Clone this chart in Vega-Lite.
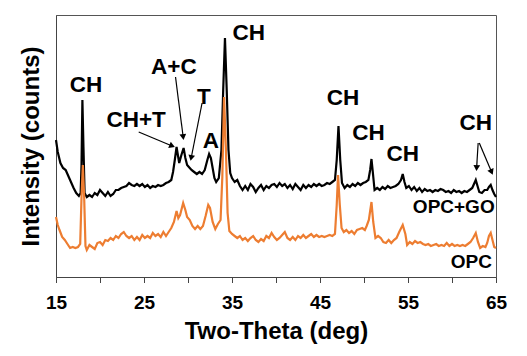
{
  "$schema": "https://vega.github.io/schema/vega-lite/v6.json",
  "autosize": {"type": "none"},
  "padding": {"left": 56, "top": 15, "right": 31, "bottom": 79},
  "width": 440,
  "height": 262,
  "background": "white",
  "config": {
    "font": "Liberation Sans",
    "view": {"stroke": "#555", "strokeWidth": 1},
    "axis": {"grid": false, "domainColor": "#444", "tickColor": "#444", "labelFont": "Liberation Sans", "titleFont": "Liberation Sans", "labelFontWeight": "bold", "titleFontWeight": "bold", "labelColor": "#000", "titleColor": "#000"},
    "axisX": {"values": [15, 20, 25, 30, 35, 40, 45, 50, 55, 60, 65], "labelExpr": "datum.value % 10 == 5 ? datum.label : ''", "tickSize": 5.5, "labelFontSize": 19, "titleFontSize": 24, "labelPadding": 11, "titlePadding": 7, "labelFlush": false},
    "axisY": {"labels": false, "ticks": false, "titleFontSize": 24, "titlePadding": 13}
  },
  "datasets": {
    "opcgo": [
      {"theta": 15.0, "intensity": 137}, {"theta": 15.2, "intensity": 125}, {"theta": 15.5, "intensity": 114}, {"theta": 15.8, "intensity": 109},
      {"theta": 16.1, "intensity": 107}, {"theta": 16.4, "intensity": 101}, {"theta": 16.7, "intensity": 95}, {"theta": 17.0, "intensity": 89},
      {"theta": 17.3, "intensity": 84}, {"theta": 17.6, "intensity": 81}, {"theta": 17.8, "intensity": 84}, {"theta": 17.9, "intensity": 112},
      {"theta": 18.0, "intensity": 177}, {"theta": 18.12, "intensity": 130}, {"theta": 18.25, "intensity": 84}, {"theta": 18.5, "intensity": 80},
      {"theta": 18.8, "intensity": 82}, {"theta": 19.1, "intensity": 80}, {"theta": 19.4, "intensity": 84}, {"theta": 19.7, "intensity": 82},
      {"theta": 20.0, "intensity": 87}, {"theta": 20.3, "intensity": 84}, {"theta": 20.6, "intensity": 81}, {"theta": 20.9, "intensity": 85},
      {"theta": 21.2, "intensity": 81}, {"theta": 21.5, "intensity": 83}, {"theta": 21.8, "intensity": 87}, {"theta": 22.1, "intensity": 87},
      {"theta": 22.4, "intensity": 89}, {"theta": 22.7, "intensity": 90}, {"theta": 23.0, "intensity": 91}, {"theta": 23.3, "intensity": 94},
      {"theta": 23.6, "intensity": 92}, {"theta": 23.9, "intensity": 91}, {"theta": 24.2, "intensity": 93}, {"theta": 24.5, "intensity": 91},
      {"theta": 24.8, "intensity": 93}, {"theta": 25.1, "intensity": 90}, {"theta": 25.4, "intensity": 92}, {"theta": 25.7, "intensity": 89},
      {"theta": 26.0, "intensity": 91}, {"theta": 26.3, "intensity": 90}, {"theta": 26.6, "intensity": 92}, {"theta": 26.9, "intensity": 91},
      {"theta": 27.2, "intensity": 92}, {"theta": 27.5, "intensity": 94}, {"theta": 27.8, "intensity": 95}, {"theta": 28.1, "intensity": 97},
      {"theta": 28.3, "intensity": 105}, {"theta": 28.5, "intensity": 117}, {"theta": 28.7, "intensity": 130}, {"theta": 28.85, "intensity": 122},
      {"theta": 29.0, "intensity": 114}, {"theta": 29.25, "intensity": 122}, {"theta": 29.5, "intensity": 129}, {"theta": 29.7, "intensity": 119},
      {"theta": 29.9, "intensity": 112}, {"theta": 30.1, "intensity": 110}, {"theta": 30.4, "intensity": 107}, {"theta": 30.7, "intensity": 105},
      {"theta": 31.0, "intensity": 103}, {"theta": 31.3, "intensity": 105}, {"theta": 31.6, "intensity": 103}, {"theta": 31.9, "intensity": 107},
      {"theta": 32.2, "intensity": 117}, {"theta": 32.4, "intensity": 123}, {"theta": 32.6, "intensity": 119}, {"theta": 32.8, "intensity": 109},
      {"theta": 33.0, "intensity": 99}, {"theta": 33.2, "intensity": 95}, {"theta": 33.5, "intensity": 99}, {"theta": 33.8, "intensity": 127},
      {"theta": 34.0, "intensity": 187}, {"theta": 34.2, "intensity": 239}, {"theta": 34.4, "intensity": 187}, {"theta": 34.6, "intensity": 127},
      {"theta": 34.8, "intensity": 104}, {"theta": 35.0, "intensity": 99}, {"theta": 35.3, "intensity": 95}, {"theta": 35.6, "intensity": 97},
      {"theta": 35.9, "intensity": 91}, {"theta": 36.2, "intensity": 87}, {"theta": 36.5, "intensity": 91}, {"theta": 36.8, "intensity": 87},
      {"theta": 37.1, "intensity": 93}, {"theta": 37.4, "intensity": 90}, {"theta": 37.7, "intensity": 85}, {"theta": 38.0, "intensity": 89},
      {"theta": 38.3, "intensity": 92}, {"theta": 38.6, "intensity": 87}, {"theta": 38.9, "intensity": 91}, {"theta": 39.2, "intensity": 89},
      {"theta": 39.5, "intensity": 92}, {"theta": 39.8, "intensity": 93}, {"theta": 40.1, "intensity": 90}, {"theta": 40.4, "intensity": 94},
      {"theta": 40.7, "intensity": 91}, {"theta": 41.0, "intensity": 93}, {"theta": 41.3, "intensity": 89}, {"theta": 41.6, "intensity": 92},
      {"theta": 41.9, "intensity": 88}, {"theta": 42.2, "intensity": 93}, {"theta": 42.5, "intensity": 90}, {"theta": 42.8, "intensity": 87},
      {"theta": 43.1, "intensity": 92}, {"theta": 43.4, "intensity": 89}, {"theta": 43.7, "intensity": 92}, {"theta": 44.0, "intensity": 90},
      {"theta": 44.3, "intensity": 93}, {"theta": 44.6, "intensity": 91}, {"theta": 44.9, "intensity": 93}, {"theta": 45.2, "intensity": 91},
      {"theta": 45.5, "intensity": 92}, {"theta": 45.8, "intensity": 94}, {"theta": 46.1, "intensity": 93}, {"theta": 46.4, "intensity": 95},
      {"theta": 46.7, "intensity": 97}, {"theta": 46.9, "intensity": 117}, {"theta": 47.1, "intensity": 151}, {"theta": 47.3, "intensity": 117},
      {"theta": 47.5, "intensity": 94}, {"theta": 47.8, "intensity": 89}, {"theta": 48.1, "intensity": 92}, {"theta": 48.4, "intensity": 90},
      {"theta": 48.7, "intensity": 93}, {"theta": 49.0, "intensity": 91}, {"theta": 49.3, "intensity": 94}, {"theta": 49.6, "intensity": 92},
      {"theta": 49.9, "intensity": 94}, {"theta": 50.2, "intensity": 95}, {"theta": 50.5, "intensity": 97}, {"theta": 50.7, "intensity": 107},
      {"theta": 50.85, "intensity": 118}, {"theta": 51.0, "intensity": 105}, {"theta": 51.2, "intensity": 87}, {"theta": 51.5, "intensity": 89},
      {"theta": 51.8, "intensity": 87}, {"theta": 52.1, "intensity": 90}, {"theta": 52.4, "intensity": 88}, {"theta": 52.7, "intensity": 91},
      {"theta": 53.0, "intensity": 89}, {"theta": 53.3, "intensity": 90}, {"theta": 53.6, "intensity": 91}, {"theta": 53.9, "intensity": 93},
      {"theta": 54.2, "intensity": 97}, {"theta": 54.4, "intensity": 103}, {"theta": 54.6, "intensity": 95}, {"theta": 54.8, "intensity": 89},
      {"theta": 55.1, "intensity": 91}, {"theta": 55.4, "intensity": 87}, {"theta": 55.7, "intensity": 90}, {"theta": 56.0, "intensity": 86},
      {"theta": 56.3, "intensity": 89}, {"theta": 56.6, "intensity": 85}, {"theta": 56.9, "intensity": 88}, {"theta": 57.2, "intensity": 86},
      {"theta": 57.5, "intensity": 87}, {"theta": 57.8, "intensity": 85}, {"theta": 58.1, "intensity": 87}, {"theta": 58.4, "intensity": 86},
      {"theta": 58.7, "intensity": 88}, {"theta": 59.0, "intensity": 87}, {"theta": 59.3, "intensity": 85}, {"theta": 59.6, "intensity": 86},
      {"theta": 59.9, "intensity": 84}, {"theta": 60.2, "intensity": 87}, {"theta": 60.5, "intensity": 85}, {"theta": 60.8, "intensity": 86},
      {"theta": 61.1, "intensity": 84}, {"theta": 61.4, "intensity": 86}, {"theta": 61.7, "intensity": 85}, {"theta": 62.0, "intensity": 87},
      {"theta": 62.3, "intensity": 89}, {"theta": 62.5, "intensity": 93}, {"theta": 62.7, "intensity": 97}, {"theta": 62.9, "intensity": 91},
      {"theta": 63.1, "intensity": 85}, {"theta": 63.4, "intensity": 84}, {"theta": 63.7, "intensity": 87}, {"theta": 64.0, "intensity": 87},
      {"theta": 64.2, "intensity": 90}, {"theta": 64.4, "intensity": 92}, {"theta": 64.6, "intensity": 87}, {"theta": 64.8, "intensity": 83},
      {"theta": 65.0, "intensity": 80}
    ],
    "opc": [
      {"theta": 15.0, "intensity": 60}, {"theta": 15.2, "intensity": 52}, {"theta": 15.4, "intensity": 47}, {"theta": 15.7, "intensity": 40},
      {"theta": 16.0, "intensity": 37}, {"theta": 16.3, "intensity": 33}, {"theta": 16.6, "intensity": 29}, {"theta": 16.9, "intensity": 30},
      {"theta": 17.2, "intensity": 29}, {"theta": 17.5, "intensity": 30}, {"theta": 17.75, "intensity": 33}, {"theta": 17.9, "intensity": 80},
      {"theta": 18.05, "intensity": 112}, {"theta": 18.2, "intensity": 80}, {"theta": 18.35, "intensity": 31}, {"theta": 18.5, "intensity": 27},
      {"theta": 18.8, "intensity": 32}, {"theta": 19.1, "intensity": 30}, {"theta": 19.4, "intensity": 28}, {"theta": 19.7, "intensity": 34},
      {"theta": 20.0, "intensity": 35}, {"theta": 20.3, "intensity": 32}, {"theta": 20.6, "intensity": 37}, {"theta": 20.9, "intensity": 36},
      {"theta": 21.2, "intensity": 39}, {"theta": 21.5, "intensity": 37}, {"theta": 21.8, "intensity": 41}, {"theta": 22.1, "intensity": 39},
      {"theta": 22.4, "intensity": 43}, {"theta": 22.7, "intensity": 45}, {"theta": 23.0, "intensity": 41}, {"theta": 23.3, "intensity": 39},
      {"theta": 23.6, "intensity": 41}, {"theta": 23.9, "intensity": 37}, {"theta": 24.2, "intensity": 40}, {"theta": 24.5, "intensity": 37},
      {"theta": 24.8, "intensity": 42}, {"theta": 25.1, "intensity": 39}, {"theta": 25.4, "intensity": 41}, {"theta": 25.7, "intensity": 39},
      {"theta": 26.0, "intensity": 44}, {"theta": 26.3, "intensity": 41}, {"theta": 26.6, "intensity": 43}, {"theta": 26.9, "intensity": 40},
      {"theta": 27.2, "intensity": 45}, {"theta": 27.5, "intensity": 41}, {"theta": 27.8, "intensity": 45}, {"theta": 28.1, "intensity": 49},
      {"theta": 28.4, "intensity": 55}, {"theta": 28.7, "intensity": 66}, {"theta": 28.9, "intensity": 59}, {"theta": 29.1, "intensity": 62},
      {"theta": 29.45, "intensity": 74}, {"theta": 29.7, "intensity": 67}, {"theta": 29.9, "intensity": 60}, {"theta": 30.2, "intensity": 57},
      {"theta": 30.5, "intensity": 51}, {"theta": 30.8, "intensity": 48}, {"theta": 31.1, "intensity": 51}, {"theta": 31.4, "intensity": 48},
      {"theta": 31.7, "intensity": 51}, {"theta": 32.0, "intensity": 61}, {"theta": 32.3, "intensity": 72}, {"theta": 32.5, "intensity": 69},
      {"theta": 32.8, "intensity": 55}, {"theta": 33.1, "intensity": 48}, {"theta": 33.4, "intensity": 53}, {"theta": 33.7, "intensity": 57},
      {"theta": 33.9, "intensity": 100}, {"theta": 34.1, "intensity": 180}, {"theta": 34.3, "intensity": 130}, {"theta": 34.5, "intensity": 64},
      {"theta": 34.7, "intensity": 46}, {"theta": 35.0, "intensity": 43}, {"theta": 35.3, "intensity": 41}, {"theta": 35.6, "intensity": 39},
      {"theta": 35.9, "intensity": 41}, {"theta": 36.2, "intensity": 37}, {"theta": 36.5, "intensity": 39}, {"theta": 36.8, "intensity": 36},
      {"theta": 37.1, "intensity": 39}, {"theta": 37.4, "intensity": 41}, {"theta": 37.7, "intensity": 37}, {"theta": 38.0, "intensity": 35},
      {"theta": 38.3, "intensity": 38}, {"theta": 38.6, "intensity": 36}, {"theta": 38.9, "intensity": 41}, {"theta": 39.2, "intensity": 39},
      {"theta": 39.5, "intensity": 44}, {"theta": 39.8, "intensity": 40}, {"theta": 40.1, "intensity": 37}, {"theta": 40.4, "intensity": 39},
      {"theta": 40.7, "intensity": 42}, {"theta": 41.0, "intensity": 45}, {"theta": 41.3, "intensity": 39}, {"theta": 41.6, "intensity": 37},
      {"theta": 41.9, "intensity": 40}, {"theta": 42.2, "intensity": 37}, {"theta": 42.5, "intensity": 41}, {"theta": 42.8, "intensity": 39},
      {"theta": 43.1, "intensity": 42}, {"theta": 43.4, "intensity": 39}, {"theta": 43.7, "intensity": 41}, {"theta": 44.0, "intensity": 43},
      {"theta": 44.3, "intensity": 40}, {"theta": 44.6, "intensity": 42}, {"theta": 44.9, "intensity": 40}, {"theta": 45.2, "intensity": 41},
      {"theta": 45.5, "intensity": 40}, {"theta": 45.8, "intensity": 41}, {"theta": 46.1, "intensity": 42}, {"theta": 46.4, "intensity": 41},
      {"theta": 46.7, "intensity": 43}, {"theta": 46.9, "intensity": 72}, {"theta": 47.05, "intensity": 102}, {"theta": 47.25, "intensity": 72},
      {"theta": 47.45, "intensity": 49}, {"theta": 47.7, "intensity": 45}, {"theta": 48.0, "intensity": 47}, {"theta": 48.3, "intensity": 44},
      {"theta": 48.6, "intensity": 46}, {"theta": 48.9, "intensity": 43}, {"theta": 49.2, "intensity": 47}, {"theta": 49.5, "intensity": 48},
      {"theta": 49.8, "intensity": 49}, {"theta": 50.1, "intensity": 47}, {"theta": 50.3, "intensity": 51}, {"theta": 50.55, "intensity": 57},
      {"theta": 50.85, "intensity": 75}, {"theta": 51.05, "intensity": 55}, {"theta": 51.3, "intensity": 39}, {"theta": 51.6, "intensity": 41},
      {"theta": 51.9, "intensity": 39}, {"theta": 52.2, "intensity": 35}, {"theta": 52.5, "intensity": 34}, {"theta": 52.8, "intensity": 37},
      {"theta": 53.1, "intensity": 34}, {"theta": 53.4, "intensity": 37}, {"theta": 53.7, "intensity": 39}, {"theta": 54.0, "intensity": 45},
      {"theta": 54.4, "intensity": 52}, {"theta": 54.7, "intensity": 43}, {"theta": 54.9, "intensity": 32}, {"theta": 55.2, "intensity": 35},
      {"theta": 55.5, "intensity": 33}, {"theta": 55.8, "intensity": 36}, {"theta": 56.1, "intensity": 34}, {"theta": 56.4, "intensity": 35},
      {"theta": 56.7, "intensity": 33}, {"theta": 57.0, "intensity": 32}, {"theta": 57.3, "intensity": 33}, {"theta": 57.6, "intensity": 31},
      {"theta": 57.9, "intensity": 32}, {"theta": 58.2, "intensity": 33}, {"theta": 58.5, "intensity": 31}, {"theta": 58.8, "intensity": 32},
      {"theta": 59.1, "intensity": 31}, {"theta": 59.4, "intensity": 34}, {"theta": 59.7, "intensity": 31}, {"theta": 60.0, "intensity": 33},
      {"theta": 60.3, "intensity": 31}, {"theta": 60.6, "intensity": 32}, {"theta": 60.9, "intensity": 31}, {"theta": 61.2, "intensity": 32},
      {"theta": 61.5, "intensity": 31}, {"theta": 61.8, "intensity": 33}, {"theta": 62.1, "intensity": 35}, {"theta": 62.4, "intensity": 39},
      {"theta": 62.7, "intensity": 44}, {"theta": 62.95, "intensity": 35}, {"theta": 63.2, "intensity": 29}, {"theta": 63.5, "intensity": 31},
      {"theta": 63.8, "intensity": 30}, {"theta": 64.0, "intensity": 34}, {"theta": 64.2, "intensity": 41}, {"theta": 64.4, "intensity": 44},
      {"theta": 64.6, "intensity": 37}, {"theta": 64.8, "intensity": 30}, {"theta": 65.0, "intensity": 29}
    ],
    "labels": [
      {"theta": 18.4, "intensity": 192, "label": "CH"},
      {"theta": 24.1, "intensity": 157, "label": "CH+T"},
      {"theta": 28.4, "intensity": 210, "label": "A+C"},
      {"theta": 31.8, "intensity": 180, "label": "T"},
      {"theta": 32.6, "intensity": 136, "label": "A"},
      {"theta": 36.9, "intensity": 244, "label": "CH"},
      {"theta": 47.6, "intensity": 179, "label": "CH"},
      {"theta": 50.5, "intensity": 144, "label": "CH"},
      {"theta": 54.4, "intensity": 123, "label": "CH"},
      {"theta": 62.7, "intensity": 154, "label": "CH"}
    ],
    "samples": [
      {"theta": 60.2, "intensity": 70, "label": "OPC+GO"},
      {"theta": 62.2, "intensity": 15, "label": "OPC"}
    ],
    "arrows": [
      {"theta": 24.4, "intensity": 145, "theta2": 28.2, "intensity2": 131},
      {"theta": 28.58, "intensity": 200, "theta2": 29.45, "intensity2": 140},
      {"theta": 31.6, "intensity": 174, "theta2": 30.36, "intensity2": 119},
      {"theta": 62.97, "intensity": 134, "theta2": 62.8, "intensity2": 109},
      {"theta": 63.1, "intensity": 134, "theta2": 64.5, "intensity2": 105}
    ]
  },
  "layer": [
    {
      "data": {"name": "opcgo"},
      "mark": {"type": "line", "color": "#000000", "strokeWidth": 2.2, "interpolate": "linear"},
      "encoding": {
        "x": {"field": "theta", "type": "quantitative", "title": "Two-Theta (deg)", "scale": {"domain": [15, 65], "nice": false, "zero": false}},
        "y": {"field": "intensity", "type": "quantitative", "title": "Intensity (counts)", "scale": {"domain": [0, 262], "nice": false}}
      }
    },
    {
      "data": {"name": "opc"},
      "mark": {"type": "line", "color": "#ED7D31", "strokeWidth": 2.2},
      "encoding": {
        "x": {"field": "theta", "type": "quantitative", "title": "Two-Theta (deg)"},
        "y": {"field": "intensity", "type": "quantitative", "title": "Intensity (counts)"}
      }
    },
    {
      "data": {"name": "arrows"},
      "mark": {"type": "rule", "color": "#000000", "strokeWidth": 1.2},
      "encoding": {
        "x": {"field": "theta", "type": "quantitative", "title": "Two-Theta (deg)"},
        "y": {"field": "intensity", "type": "quantitative", "title": "Intensity (counts)"},
        "x2": {"field": "theta2"},
        "y2": {"field": "intensity2"}
      }
    },
    {
      "data": {"name": "arrows"},
      "transform": [{"calculate": "atan2((datum.theta2 - datum.theta) * 8.8, datum.intensity2 - datum.intensity) * 180 / PI", "as": "heading"}],
      "mark": {"type": "point", "shape": "triangle-up", "filled": true, "color": "#000000", "opacity": 1, "size": 45},
      "encoding": {
        "x": {"field": "theta2", "type": "quantitative", "title": "Two-Theta (deg)"},
        "y": {"field": "intensity2", "type": "quantitative", "title": "Intensity (counts)"},
        "angle": {"field": "heading", "type": "quantitative", "scale": null}
      }
    },
    {
      "data": {"name": "labels"},
      "mark": {"type": "text", "font": "Liberation Sans", "fontWeight": "bold", "fontSize": 22.5, "color": "#000000", "align": "center", "baseline": "middle"},
      "encoding": {
        "x": {"field": "theta", "type": "quantitative", "title": "Two-Theta (deg)"},
        "y": {"field": "intensity", "type": "quantitative", "title": "Intensity (counts)"},
        "text": {"field": "label"}
      }
    },
    {
      "data": {"name": "samples"},
      "mark": {"type": "text", "font": "Liberation Sans", "fontWeight": "bold", "fontSize": 19, "color": "#000000", "align": "center", "baseline": "middle"},
      "encoding": {
        "x": {"field": "theta", "type": "quantitative", "title": "Two-Theta (deg)"},
        "y": {"field": "intensity", "type": "quantitative", "title": "Intensity (counts)"},
        "text": {"field": "label"}
      }
    }
  ]
}
